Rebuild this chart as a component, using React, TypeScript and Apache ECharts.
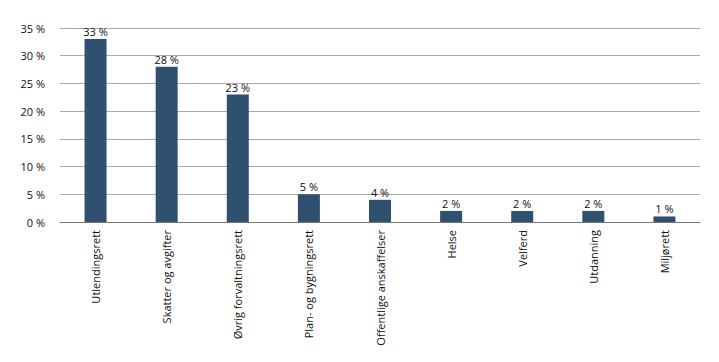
import React, { useEffect, useRef } from "react";
import * as echarts from "echarts";

const categories = [
  "Utlendingsrett",
  "Skatter og avgifter",
  "Øvrig forvaltningsrett",
  "Plan- og bygningsrett",
  "Offentlige anskaffelser",
  "Helse",
  "Velferd",
  "Utdanning",
  "Miljørett",
];
const values = [33, 28, 23, 5, 4, 2, 2, 2, 1];

export default function App() {
  const ref = useRef<HTMLDivElement>(null);
  useEffect(() => {
    document.body.style.margin = "0";
    const chart = echarts.init(ref.current!, null, { renderer: "svg" });
    const font = "Open Sans";
    chart.setOption({
      animation: false,
      grid: { left: 60, right: 19, top: 28, bottom: 140 },
      xAxis: {
        type: "category",
        data: categories,
        axisLine: { lineStyle: { color: "#777", width: 1 } },
        axisTick: { show: false },
        axisLabel: {
          rotate: 90,
          interval: 0,
          color: "#111",
          fontFamily: font,
          fontSize: 11,
          margin: 8,
        },
      },
      yAxis: {
        type: "value",
        min: 0,
        max: 35,
        interval: 5,
        axisLine: { show: false },
        axisTick: { show: false },
        splitLine: { lineStyle: { color: "#aaaaaa", width: 1 } },
        axisLabel: {
          formatter: "{value} %",
          color: "#111",
          fontFamily: font,
          fontSize: 11,
          margin: 15,
        },
      },
      series: [
        {
          type: "bar",
          data: values,
          barWidth: 22,
          itemStyle: { color: "#30506f" },
          label: {
            show: true,
            position: "top",
            formatter: "{c} %",
            color: "#111",
            fontFamily: font,
            fontSize: 11,
            distance: 2,
          },
        },
      ],
    });
    return () => chart.dispose();
  }, []);
  return <div ref={ref} style={{ width: 719, height: 362 }} />;
}
